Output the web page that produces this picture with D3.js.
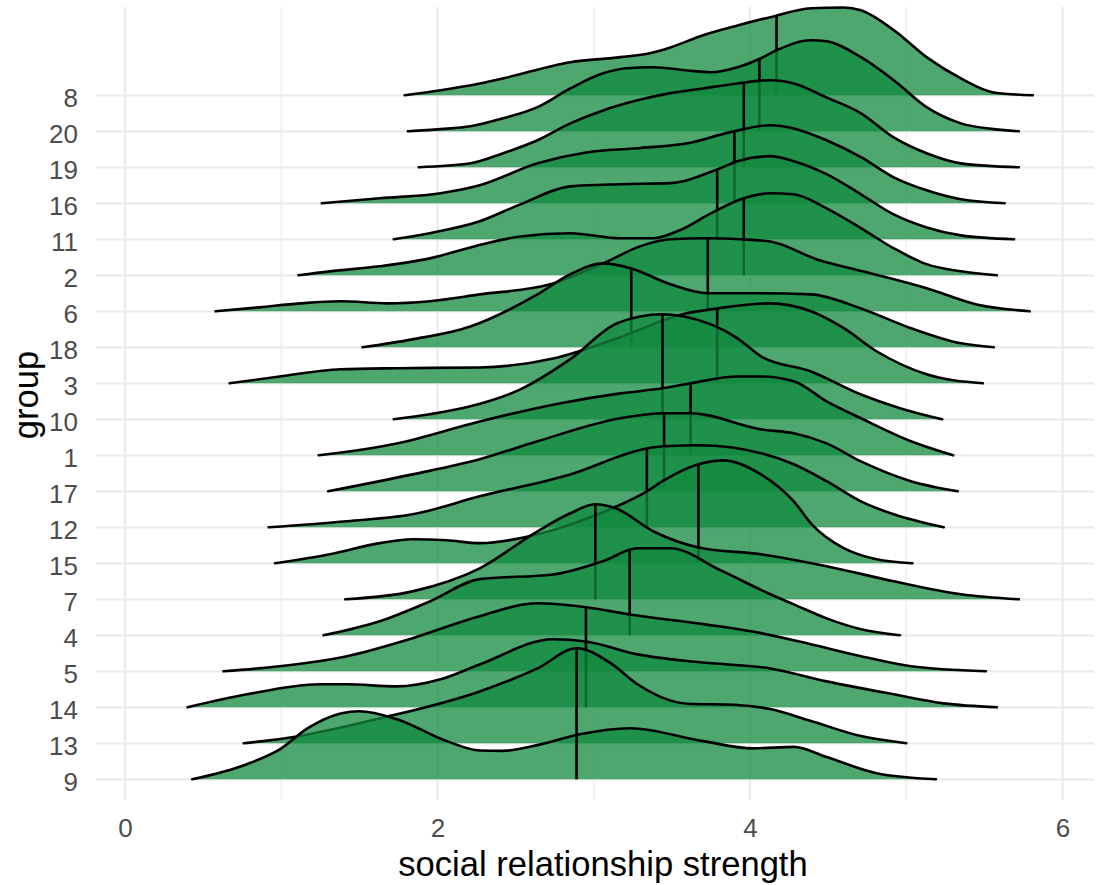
<!DOCTYPE html>
<html>
<head>
<meta charset="utf-8">
<script src="https://cdn.jsdelivr.net/npm/d3@7"></script>
<style>
  body { margin: 0; background: #ffffff; }
  svg { display: block; font-family: "Liberation Sans", Arial, Helvetica, sans-serif; }
</style>
</head>
<body>
<svg id="chart" width="1104" height="885"></svg>
<script>
// Groups from the top ridge to the bottom ridge
const groups = ["8","20","19","16","11","2","6","18","3","10","1","17","12","15","7","4","5","14","13","9"];

// Median of each group (same order as groups)
const medians = [4.17,4.06,3.96,3.90,3.79,3.96,3.73,3.24,3.79,3.44,3.62,3.45,3.34,3.67,3.01,3.23,2.95,2.95,2.89,2.89];

// Axis ticks
const xTicks = [0, 2, 4, 6];
const xMinorTicks = [1, 3, 5];

// Scaled density profiles: [social relationship strength, density] per group
const densities = [
  [[1.79,0],[2.02,.14],[2.27,.33],[2.42,.47],[2.85,.92],[3.17,1.06],[3.36,1.17],[3.49,1.33],[3.70,1.67],[3.92,1.94],[4.13,2.17],[4.39,2.42],[4.60,2.44],[4.71,2.36],[4.92,1.81],[5.13,1.06],[5.35,.47],[5.56,.08],[5.81,0]],
  [[1.81,0],[2.02,.06],[2.21,.14],[2.42,.36],[2.64,.67],[2.85,1.19],[3.06,1.61],[3.21,1.75],[3.38,1.78],[3.60,1.69],[3.75,1.64],[3.92,1.78],[4.07,2.03],[4.17,2.25],[4.39,2.53],[4.49,2.5],[4.71,2.06],[4.92,1.42],[5.13,.67],[5.35,.22],[5.56,.06],[5.72,0]],
  [[1.88,0],[2.21,.11],[2.42,.39],[2.64,.75],[2.85,1.22],[3.06,1.58],[3.28,1.86],[3.49,2.06],[3.70,2.19],[3.92,2.33],[4.13,2.42],[4.28,2.33],[4.49,1.94],[4.71,1.5],[4.92,.83],[5.13,.39],[5.35,.11],[5.72,0]],
  [[1.26,0],[1.63,.14],[2.02,.28],[2.27,.5],[2.64,1.11],[2.96,1.42],[3.28,1.53],[3.60,1.67],[3.87,1.97],[4.13,2.17],[4.28,2.08],[4.49,1.75],[4.71,1.28],[4.92,.72],[5.13,.36],[5.35,.11],[5.63,0]],
  [[1.72,0],[1.95,.17],[2.27,.5],[2.53,.97],[2.85,1.47],[3.17,1.53],[3.49,1.56],[3.79,1.94],[3.92,2.17],[4.13,2.31],[4.28,2.17],[4.49,1.81],[4.71,1.25],[4.92,.69],[5.13,.33],[5.35,.11],[5.69,0]],
  [[1.11,0],[1.31,.11],[1.63,.25],[1.95,.47],[2.24,.81],[2.53,1.08],[2.85,1.17],[3.17,1.03],[3.38,1.03],[3.55,1.25],[3.75,1.72],[3.96,2.14],[4.13,2.28],[4.28,2.25],[4.49,1.86],[4.71,1.31],[4.92,.75],[5.13,.31],[5.35,.11],[5.58,0]],
  [[.58,0],[.86,.11],[1.12,.22],[1.38,.28],[1.68,.22],[1.95,.28],[2.27,.47],[2.72,.75],[3.06,1.33],[3.30,1.81],[3.49,2.0],[3.73,2.03],[3.94,2.0],[4.13,1.94],[4.43,1.44],[4.77,1.06],[5.13,.64],[5.45,.19],[5.79,0]],
  [[1.52,0],[1.84,.22],[2.21,.58],[2.64,1.47],[2.85,2.03],[3.06,2.33],[3.24,2.19],[3.49,1.75],[3.73,1.5],[4.07,1.5],[4.39,1.47],[4.71,1.08],[5.03,.53],[5.35,.11],[5.56,0]],
  [[.67,0],[.99,.19],[1.38,.39],[1.74,.42],[2.27,.44],[2.74,.69],[3.15,1.25],[3.57,1.92],[3.79,2.08],[4.13,2.22],[4.39,2.0],[4.60,1.53],[4.81,.89],[5.13,.25],[5.49,0]],
  [[1.72,0],[1.95,.14],[2.21,.36],[2.53,.83],[2.85,1.67],[3.15,2.67],[3.44,2.92],[3.57,2.86],[3.92,2.25],[4.07,1.75],[4.39,1.33],[4.71,.69],[4.96,.31],[5.23,0]],
  [[1.24,0],[1.74,.33],[2.27,.94],[2.78,1.44],[3.17,1.72],[3.44,1.86],[3.62,2.0],[3.92,2.19],[4.07,2.19],[4.28,2.06],[4.49,1.5],[4.71,1.03],[5.03,.39],[5.30,0]],
  [[1.30,0],[1.84,.47],[2.27,.89],[2.64,1.39],[3.17,2.03],[3.45,2.17],[3.62,2.17],[4.07,1.72],[4.28,1.61],[4.49,1.33],[4.71,.83],[5.03,.28],[5.33,0]],
  [[.92,0],[1.42,.17],[1.84,.36],[2.27,.86],[2.85,1.47],[3.34,2.19],[3.45,2.25],[3.68,2.28],[4.07,2.06],[4.28,1.75],[4.49,1.28],[4.71,.72],[4.92,.36],[5.24,0]],
  [[.96,0],[1.31,.25],[1.63,.56],[1.84,.67],[2.06,.64],[2.27,.56],[2.66,.83],[2.91,1.17],[3.12,1.53],[3.34,2.0],[3.44,2.28],[3.67,2.75],[3.83,2.86],[4.07,2.47],[4.28,1.72],[4.40,1.06],[4.60,.42],[4.81,.11],[5.04,0]],
  [[1.41,0],[1.84,.22],[2.27,.86],[2.64,1.89],[2.85,2.39],[3.01,2.64],[3.14,2.53],[3.38,1.89],[3.67,1.44],[4.07,1.25],[4.49,.92],[4.92,.5],[5.35,.14],[5.72,0]],
  [[1.27,0],[1.63,.39],[1.95,.94],[2.27,1.56],[2.74,1.69],[3.06,2.06],[3.28,2.42],[3.49,2.42],[3.81,1.81],[4.13,1.14],[4.28,.86],[4.49,.47],[4.71,.17],[4.96,0]],
  [[.63,0],[.99,.14],[1.42,.42],[1.84,.92],[2.27,1.53],[2.64,1.89],[2.95,1.78],[3.23,1.58],[3.70,1.31],[4.07,1.06],[4.39,.75],[4.71,.42],[5.03,.14],[5.51,0]],
  [[.40,0],[.78,.36],[1.25,.64],[1.42,.64],[1.74,.58],[2.02,.78],[2.27,1.19],[2.74,1.89],[2.95,1.83],[3.28,1.47],[3.68,1.25],[4.13,1.08],[4.49,.72],[4.92,.36],[5.24,.11],[5.58,0]],
  [[.76,0],[1.10,.19],[1.63,.69],[2.27,1.44],[2.64,2.08],[2.89,2.64],[3.11,2.22],[3.28,1.64],[3.60,1.1],[3.90,1.07],[4.13,.95],[4.39,.62],[4.71,.2],[5.00,0]],
  [[.43,0],[.78,.42],[.99,.83],[1.17,1.42],[1.38,1.83],[1.50,1.89],[1.74,1.67],[2.06,1.06],[2.27,.8],[2.42,.79],[2.66,.97],[2.91,1.25],[3.23,1.42],[3.70,1.06],[4.02,.86],[4.28,.9],[4.49,.62],[4.81,.17],[5.19,0]]
];

const W = 1104, H = 885;
const panel = { left: 96, right: 1094, top: 7, bottom: 800 };

const svg = d3.select("#chart");
svg.append("rect").attr("width", W).attr("height", H).attr("fill", "#ffffff");

const x = d3.scaleLinear().domain([0, 6]).range([125, 1062.5]);
const y = d3.scalePoint().domain(groups).range([95.3, 779.3]);
const hScale = d3.scaleLinear().domain([0, 1]).range([0, y.step()]);

// Grid
const grid = svg.append("g").attr("class", "grid");
grid.selectAll("line.minor").data(xMinorTicks).join("line")
  .attr("class", "minor")
  .attr("x1", d => x(d)).attr("x2", d => x(d))
  .attr("y1", panel.top).attr("y2", panel.bottom)
  .attr("stroke", "#ebebeb").attr("stroke-width", 1.1);
grid.selectAll("line.major").data(xTicks).join("line")
  .attr("class", "major")
  .attr("x1", d => x(d)).attr("x2", d => x(d))
  .attr("y1", panel.top).attr("y2", panel.bottom)
  .attr("stroke", "#ebebeb").attr("stroke-width", 2.2);
grid.selectAll("line.hmajor").data(groups).join("line")
  .attr("class", "hmajor")
  .attr("x1", panel.left).attr("x2", panel.right)
  .attr("y1", d => y(d)).attr("y2", d => y(d))
  .attr("stroke", "#ebebeb").attr("stroke-width", 2.2);

// Ridges, drawn from the top group down so lower ridges overlap upper ones
const ridges = svg.append("g").attr("class", "ridges");
groups.forEach((g, i) => {
  const base = y(g);
  const pts = densities[i];
  const area = d3.area()
    .x(d => x(d[0])).y0(base).y1(d => base - hScale(d[1]))
    .curve(d3.curveMonotoneX);
  const line = d3.line()
    .x(d => x(d[0])).y(d => base - hScale(d[1]))
    .curve(d3.curveMonotoneX);
  const grp = ridges.append("g").attr("class", "ridge");
  grp.append("path").attr("d", area(pts))
    .attr("fill", "#11893f").attr("fill-opacity", 0.75).attr("stroke", "none");
  const outline = grp.append("path").attr("d", line(pts))
    .attr("fill", "none").attr("stroke", "#000").attr("stroke-width", 2.6)
    .attr("stroke-linecap", "round").attr("stroke-linejoin", "round");

  // Height of the density at the median
  const node = outline.node();
  const target = x(medians[i]);
  let lo = 0, hi = node.getTotalLength();
  for (let k = 0; k < 40; k++) {
    const mid = (lo + hi) / 2;
    if (node.getPointAtLength(mid).x < target) lo = mid; else hi = mid;
  }
  const yTop = node.getPointAtLength((lo + hi) / 2).y;
  grp.append("line")
    .attr("x1", target).attr("x2", target)
    .attr("y1", base).attr("y2", yTop)
    .attr("stroke", "#000").attr("stroke-width", 2.6);
});

// Axes (labels only)
const xAxis = svg.append("g")
  .attr("transform", `translate(0,${panel.bottom})`)
  .call(d3.axisBottom(x).tickValues(xTicks).tickSize(0).tickPadding(18.5).tickFormat(d3.format("d")));
xAxis.select(".domain").remove();
xAxis.selectAll("text").attr("font-size", 26).attr("fill", "#4d4d4d")
  .attr("font-family", "Liberation Sans, Arial, sans-serif");

const yAxis = svg.append("g")
  .attr("transform", `translate(${panel.left},0)`)
  .call(d3.axisLeft(y).tickSize(0).tickPadding(18));
yAxis.select(".domain").remove();
yAxis.selectAll("text").attr("font-size", 26).attr("fill", "#4d4d4d").attr("dy", "0.43em")
  .attr("font-family", "Liberation Sans, Arial, sans-serif");

// Axis titles
svg.append("text")
  .attr("x", (panel.left + panel.right) / 2 + 8).attr("y", 876)
  .attr("text-anchor", "middle").attr("font-size", 34.6).attr("fill", "#000")
  .text("social relationship strength");
svg.append("text")
  .attr("transform", "translate(38,395) rotate(-90)")
  .attr("text-anchor", "middle").attr("font-size", 34.6).attr("fill", "#000")
  .text("group");
</script>
</body>
</html>
